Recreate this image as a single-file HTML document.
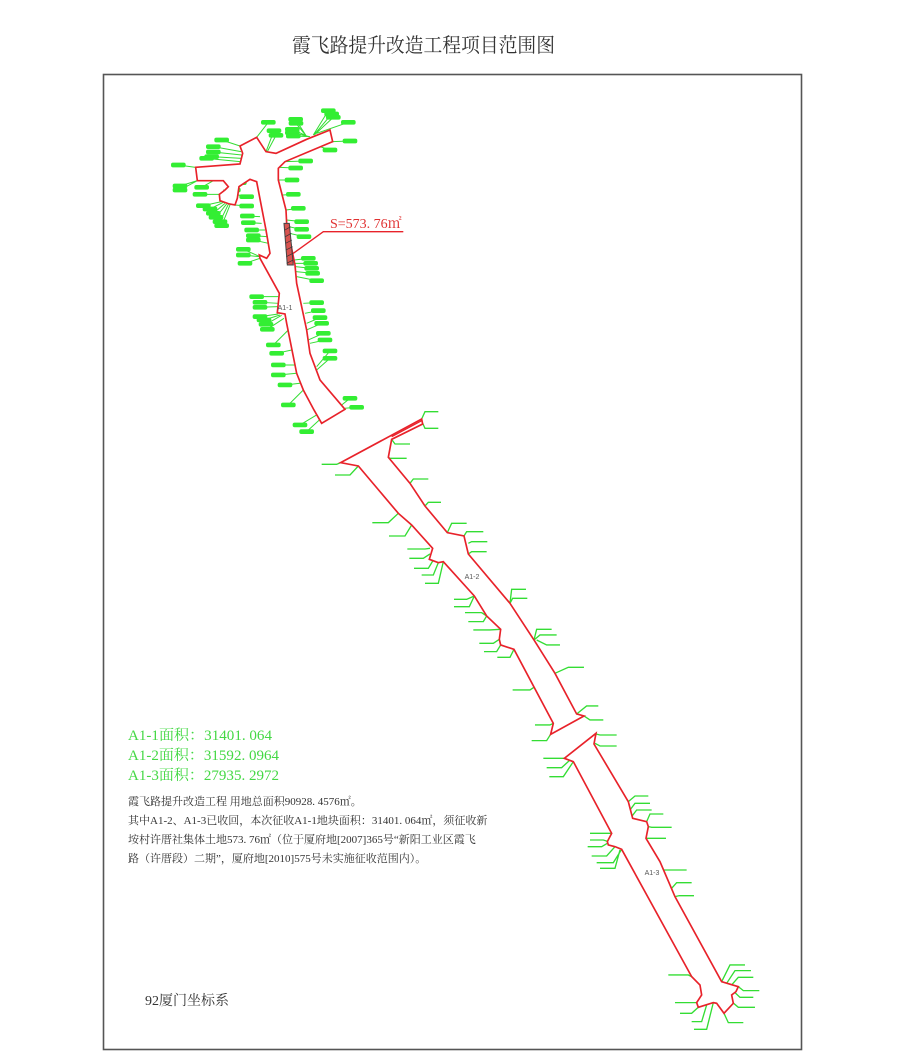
<!DOCTYPE html>
<html><head><meta charset="utf-8"><style>
html,body{margin:0;padding:0;background:#fff;}
svg{display:block;}
.t{font-family:"Liberation Serif","Noto Serif CJK SC","Noto Sans CJK SC",serif;}
</style></head><body>
<svg width="900" height="1062" viewBox="0 0 900 1062" xmlns="http://www.w3.org/2000/svg">
<rect x="0" y="0" width="900" height="1062" fill="#fff"/>
<text class="t" x="292" y="52" font-size="20" textLength="263" lengthAdjust="spacingAndGlyphs" fill="#333">霞飞路提升改造工程项目范围图</text>
<rect x="103.5" y="74.5" width="698" height="975" fill="none" stroke="#555" stroke-width="1.6"/>

<!-- A1-1 -->
<g transform="translate(160,90) scale(0.3333)">
<g stroke="#33dd33" stroke-width="3" fill="none">
<path d="M325,97L290,142M342,122L318,185M348,136L322,185M407,88L440,140M408,100L440,140M397,118L445,140M397,128L448,140M400,138L450,140M505,62L460,135M515,72L462,135M520,82L465,133M565,97L470,130M570,153L518,155M510,180L480,170M395,187L360,190M437,213L375,215M407,234L360,232M396,270L355,270M400,313L368,315M415,355L378,360M425,395L380,390M425,418L385,410M432,440L388,430M445,505L403,510M452,520L405,520M455,535L406,530M458,550L408,545M470,572L410,560M185,150L240,168M160,170L243,185M160,186L245,195M155,200L245,205M140,205L240,215M55,225L107,232M150,262L195,268M60,288L112,272M60,300L112,272M125,292L160,272M235,270L200,280M238,278L205,290M310,262L270,268M220,300L190,300M120,313L178,313M260,320L235,315M260,348L225,345M130,347L185,335M150,357L190,337M160,370L195,340M168,382L200,342M180,395L205,343M185,407L210,345M262,378L300,380M265,398L305,400M275,420L315,420M280,437L320,440M280,450L325,460M250,478L300,500M250,495L298,500M255,520L300,505M290,620L355,620M300,637L355,640M300,652L355,650M300,680L355,672M312,690L360,675M318,703L365,676M322,718L372,685M470,638L430,640M475,662L435,670M480,683L440,700M485,700L440,720M490,730L445,750M495,750L450,760M340,765L385,720M350,790L395,780M510,783L470,830M510,805L470,840M355,825L405,825M355,855L410,850M375,885L420,880M570,925L545,945M590,952L555,955M385,945L430,900M420,1005L470,975M440,1025L478,990"/>
</g>
<g fill="#33ee33">
<rect x="303" y="90" width="44" height="14" rx="6"/><rect x="320" y="115" width="44" height="14" rx="6"/><rect x="326" y="129" width="44" height="14" rx="6"/><rect x="385" y="81" width="44" height="14" rx="6"/><rect x="386" y="93" width="44" height="14" rx="6"/><rect x="375" y="111" width="44" height="14" rx="6"/><rect x="375" y="121" width="44" height="14" rx="6"/><rect x="378" y="131" width="44" height="14" rx="6"/><rect x="483" y="55" width="44" height="14" rx="6"/><rect x="493" y="65" width="44" height="14" rx="6"/><rect x="498" y="75" width="44" height="14" rx="6"/><rect x="543" y="90" width="44" height="14" rx="6"/><rect x="548" y="146" width="44" height="14" rx="6"/><rect x="488" y="173" width="44" height="14" rx="6"/><rect x="373" y="180" width="44" height="14" rx="6"/><rect x="415" y="206" width="44" height="14" rx="6"/><rect x="385" y="227" width="44" height="14" rx="6"/><rect x="374" y="263" width="44" height="14" rx="6"/><rect x="378" y="306" width="44" height="14" rx="6"/><rect x="393" y="348" width="44" height="14" rx="6"/><rect x="403" y="388" width="44" height="14" rx="6"/><rect x="403" y="411" width="44" height="14" rx="6"/><rect x="410" y="433" width="44" height="14" rx="6"/><rect x="423" y="498" width="44" height="14" rx="6"/><rect x="430" y="513" width="44" height="14" rx="6"/><rect x="433" y="528" width="44" height="14" rx="6"/><rect x="436" y="543" width="44" height="14" rx="6"/><rect x="448" y="565" width="44" height="14" rx="6"/><rect x="163" y="143" width="44" height="14" rx="6"/><rect x="138" y="163" width="44" height="14" rx="6"/><rect x="138" y="179" width="44" height="14" rx="6"/><rect x="133" y="193" width="44" height="14" rx="6"/><rect x="118" y="198" width="44" height="14" rx="6"/><rect x="33" y="218" width="44" height="14" rx="6"/><rect x="128" y="255" width="44" height="14" rx="6"/><rect x="38" y="281" width="44" height="14" rx="6"/><rect x="38" y="293" width="44" height="14" rx="6"/><rect x="103" y="285" width="44" height="14" rx="6"/><rect x="213" y="263" width="44" height="14" rx="6"/><rect x="216" y="271" width="44" height="14" rx="6"/><rect x="288" y="255" width="44" height="14" rx="6"/><rect x="198" y="293" width="44" height="14" rx="6"/><rect x="98" y="306" width="44" height="14" rx="6"/><rect x="238" y="313" width="44" height="14" rx="6"/><rect x="238" y="341" width="44" height="14" rx="6"/><rect x="108" y="340" width="44" height="14" rx="6"/><rect x="128" y="350" width="44" height="14" rx="6"/><rect x="138" y="363" width="44" height="14" rx="6"/><rect x="146" y="375" width="44" height="14" rx="6"/><rect x="158" y="388" width="44" height="14" rx="6"/><rect x="163" y="400" width="44" height="14" rx="6"/><rect x="240" y="371" width="44" height="14" rx="6"/><rect x="243" y="391" width="44" height="14" rx="6"/><rect x="253" y="413" width="44" height="14" rx="6"/><rect x="258" y="430" width="44" height="14" rx="6"/><rect x="258" y="443" width="44" height="14" rx="6"/><rect x="228" y="471" width="44" height="14" rx="6"/><rect x="228" y="488" width="44" height="14" rx="6"/><rect x="233" y="513" width="44" height="14" rx="6"/><rect x="268" y="613" width="44" height="14" rx="6"/><rect x="278" y="630" width="44" height="14" rx="6"/><rect x="278" y="645" width="44" height="14" rx="6"/><rect x="278" y="673" width="44" height="14" rx="6"/><rect x="290" y="683" width="44" height="14" rx="6"/><rect x="296" y="696" width="44" height="14" rx="6"/><rect x="300" y="711" width="44" height="14" rx="6"/><rect x="448" y="631" width="44" height="14" rx="6"/><rect x="453" y="655" width="44" height="14" rx="6"/><rect x="458" y="676" width="44" height="14" rx="6"/><rect x="463" y="693" width="44" height="14" rx="6"/><rect x="468" y="723" width="44" height="14" rx="6"/><rect x="473" y="743" width="44" height="14" rx="6"/><rect x="318" y="758" width="44" height="14" rx="6"/><rect x="328" y="783" width="44" height="14" rx="6"/><rect x="488" y="776" width="44" height="14" rx="6"/><rect x="488" y="798" width="44" height="14" rx="6"/><rect x="333" y="818" width="44" height="14" rx="6"/><rect x="333" y="848" width="44" height="14" rx="6"/><rect x="353" y="878" width="44" height="14" rx="6"/><rect x="548" y="918" width="44" height="14" rx="6"/><rect x="568" y="945" width="44" height="14" rx="6"/><rect x="363" y="938" width="44" height="14" rx="6"/><rect x="398" y="998" width="44" height="14" rx="6"/><rect x="418" y="1018" width="44" height="14" rx="6"/>
</g>
<path d="M107,232 L240,222 L248,190 L240,168 L290,142 L318,185 L348,190 L440,148 L510,120 L518,155 L375,215 L355,235 L355,270 L378,360 L380,400 L405,525 L410,580 L440,720 L450,790 L480,870 L555,958 L485,1000 L462,960 L430,900 L410,850 L380,700 L375,672 L352,668 L358,610 L300,505 L298,495 L320,505 L330,490 L318,420 L290,275 L270,268 L237,290 L232,325 L225,345 L208,342 L180,332 L178,313 L195,300 L205,290 L190,272 L112,272 Z" fill="#fff" stroke="#e8222a" stroke-width="5"/>
<path d="M372,400 L388,400 L400,525 L382,525 Z" fill="#d9534f" stroke="#444" stroke-width="3"/>
<path d="M375,420L392,410M376,440L394,430M377,460L396,450M378,480L398,470M379,500L399,490M380,520L400,510" stroke="#333" stroke-width="2"/>
<path d="M400,490 L490,425 L730,425" fill="none" stroke="#e8222a" stroke-width="4"/>
</g>
<text class="t" x="330" y="228" font-size="14" fill="#e03030">S=573. 76㎡</text>
<text x="285" y="310" font-family="Liberation Sans,sans-serif" font-size="7" fill="#555" text-anchor="middle">A1-1</text>

<!-- A1-2 -->
<g transform="translate(310,400) scale(0.3333)">
<g stroke="#33dd33" stroke-width="4" fill="none">
<path d="M335,57L345,35L385,35M338,70L345,85L385,85M245,118L255,132L300,132M235,172L240,175L290,175M300,250L310,237L355,237M345,318L355,307L393,307M412,398L425,370L470,370M462,408L470,395L520,395M475,430L485,425L532,425M475,462L485,455L530,455M600,610L605,568L648,568M600,610L608,595L652,595M672,720L680,688L725,688M672,720L690,705L740,705M680,720L710,735L750,735M735,820L775,802L822,802M800,942L830,918L865,918M822,948L840,960L880,960M92,188L80,193L35,193M145,198L120,225L75,225M265,340L235,368L187,368M305,375L285,408L237,408M360,445L345,447L292,447M360,462L340,475L298,475M370,480L355,505L312,505M385,488L370,525L335,525M400,485L385,550L345,550M493,588L470,598L432,598M493,588L478,620L432,620M530,648L515,638L465,638M530,648L520,665L475,665M572,688L540,690L490,690M568,718L550,730L508,730M572,735L560,755L522,755M612,748L600,772L562,772M690,850L660,870L608,870M730,970L720,975L675,975M722,1003L710,1022L665,1022"/>
</g>
<path d="M92,188 L335,57 L338,72 L245,118 L235,172 L300,250 L345,318 L412,398 L462,408 L475,462 L600,610 L672,720 L735,820 L800,942 L822,948 L722,1003 L730,970 L612,748 L572,735 L568,718 L572,688 L530,648 L493,588 L400,485 L385,488 L358,478 L368,445 L305,375 L265,340 L145,198 Z" fill="#fff" stroke="#e8222a" stroke-width="5"/>
<path d="M335,62 L245,110" stroke="#e8222a" stroke-width="4"/>
</g>
<text x="472" y="579" font-family="Liberation Sans,sans-serif" font-size="7" fill="#555" text-anchor="middle">A1-2</text>

<!-- A1-3 -->
<g transform="translate(520,720) scale(0.3333)">
<g stroke="#33dd33" stroke-width="4" fill="none">
<path d="M228,42L240,45L290,45M225,70L240,78L290,78M325,245L345,228L385,228M330,270L345,250L390,250M335,290L350,270L395,270M380,305L390,282L430,282M385,320L395,322L455,322M378,355L390,355L438,355M420,450L445,450L500,450M455,505L470,488L515,488M465,530L478,527L522,527M605,785L630,735L675,735M620,790L645,752L693,752M635,795L655,772L700,772M655,800L670,812L718,812M645,818L660,832L700,832M635,845L655,862L705,862M612,880L625,908L670,908M133,115L110,115L70,115M150,120L125,143L80,143M160,125L130,170L88,170M275,340L255,340L210,340M265,365L250,360L210,360M262,370L245,380L203,380M285,380L260,408L215,408M305,388L280,428L230,428M300,390L285,445L240,445M515,770L505,765L445,765M530,848L520,848L465,848M535,862L515,880L480,880M560,855L545,905L515,905M580,848L560,928L522,928"/>
</g>
<path d="M228,40 L222,72 L325,245 L338,295 L380,305 L385,320 L378,355 L420,425 L465,530 L605,785 L655,800 L648,815 L635,825 L640,850 L612,880 L590,850 L580,848 L535,862 L530,848 L545,825 L540,795 L515,770 L305,388 L285,380 L265,375 L262,365 L275,340 L160,125 L133,115 Z" fill="#fff" stroke="#e8222a" stroke-width="5"/>
</g>
<text x="652" y="875" font-family="Liberation Sans,sans-serif" font-size="7" fill="#555" text-anchor="middle">A1-3</text>

<!-- legend -->
<g class="t" fill="#44d844" font-size="14.5">
<text x="128" y="740" textLength="144" lengthAdjust="spacingAndGlyphs">A1-1面积：31401. 064</text>
<text x="128" y="760" textLength="151" lengthAdjust="spacingAndGlyphs">A1-2面积：31592. 0964</text>
<text x="128" y="780" textLength="151" lengthAdjust="spacingAndGlyphs">A1-3面积：27935. 2972</text>
</g>
<g class="t" fill="#333" font-size="11">
<text x="128" y="805">霞飞路提升改造工程 用地总面积90928. 4576㎡。</text>
<text x="128" y="824">其中A1-2、A1-3已收回，本次征收A1-1地块面积：31401. 064㎡，须征收新</text>
<text x="128" y="843">垵村许厝社集体土地573. 76㎡（位于厦府地[2007]365号“新阳工业区霞飞</text>
<text x="128" y="862">路（许厝段）二期”，厦府地[2010]575号未实施征收范围内）。</text>
</g>
<text class="t" x="145" y="1005" font-size="14" fill="#333">92厦门坐标系</text>
</svg>
</body></html>
